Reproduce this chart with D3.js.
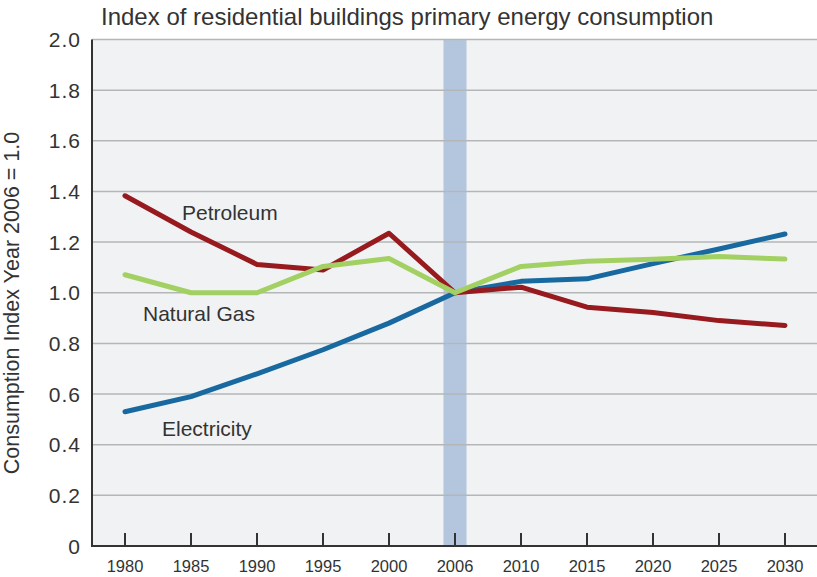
<!DOCTYPE html>
<html>
<head>
<meta charset="utf-8">
<script src="https://cdn.jsdelivr.net/npm/d3@7"></script>
<style>
  body { margin: 0; background: #fff; }
  text { font-family: "Liberation Sans", Arial, Helvetica, sans-serif; fill: #333; }
</style>
</head>
<body>
<div id="chart"></div>
<script>
// data
var years = ["1980", "1985", "1990", "1995", "2000", "2006", "2010", "2015", "2020", "2025", "2030"];
var electricity = [0.53, 0.59, 0.68, 0.775, 0.88, 1.0, 1.045, 1.055, 1.115, 1.173, 1.232];
var petroleum = [1.383, 1.24, 1.112, 1.09, 1.235, 1.0, 1.022, 0.943, 0.922, 0.89, 0.871];
var naturalGas = [1.071, 1.0, 1.0, 1.104, 1.135, 1.0, 1.104, 1.124, 1.132, 1.143, 1.133];
var yTicks = [0, 0.2, 0.4, 0.6, 0.8, 1.0, 1.2, 1.4, 1.6, 1.8, 2.0];
var baseYear = "2006";

var series = [
    {name: "Electricity", values: electricity, color: "#17699f", labelAt: "1980", dx: 37, labelY: 0.435},
    {name: "Petroleum", values: petroleum, color: "#971a1e", labelAt: "1985", dx: -9, labelY: 1.286},
    {name: "Natural Gas", values: naturalGas, color: "#a3d062", labelAt: "1980", dx: 18, labelY: 0.887}
];

var W = 817, H = 577;
var plotLeft = 92, plotTop = 39.5, plotBottom = 546, plotRight = 817;

var svg = d3.select("#chart")
    .append("svg")
    .attr("width", W)
    .attr("height", H);

var x = d3.scalePoint()
    .domain(years)
    .range([125, 785]);

var y = d3.scaleLinear()
    .domain([0, 2])
    .range([plotBottom, plotTop]);

// plot background
svg.append("rect")
    .attr("x", plotLeft)
    .attr("y", plotTop)
    .attr("width", plotRight - plotLeft)
    .attr("height", plotBottom - plotTop)
    .attr("fill", "#f1f2f4");

// base year band
svg.append("rect")
    .attr("x", x(baseYear) - 11.5)
    .attr("y", plotTop)
    .attr("width", 23)
    .attr("height", plotBottom - plotTop)
    .attr("fill", "#b3c6de");

// gridlines
svg.append("g")
    .selectAll("line")
    .data(yTicks.filter(d => d > 0))
    .enter().append("line")
    .attr("x1", plotLeft)
    .attr("x2", plotRight)
    .attr("y1", d => y(d))
    .attr("y2", d => y(d))
    .attr("stroke", "#b5b6b8")
    .attr("stroke-width", 1.5);

// y tick labels
svg.append("g")
    .selectAll("text")
    .data(yTicks)
    .enter().append("text")
    .attr("x", 81)
    .attr("y", d => y(d) + 7.5)
    .attr("text-anchor", "end")
    .attr("font-size", 21)
    .attr("letter-spacing", 1)
    .text(d => d === 0 ? "0" : d.toFixed(1));

// lines
var line = d3.line()
    .x((d, i) => x(years[i]))
    .y(d => y(d));

svg.append("g")
    .selectAll("path")
    .data(series)
    .enter().append("path")
    .attr("d", d => line(d.values))
    .attr("fill", "none")
    .attr("stroke", d => d.color)
    .attr("stroke-width", 5)
    .attr("stroke-linecap", "round")
    .attr("stroke-linejoin", "round");

// series labels
svg.append("g")
    .selectAll("text")
    .data(series)
    .enter().append("text")
    .attr("x", d => x(d.labelAt) + d.dx)
    .attr("y", d => y(d.labelY))
    .attr("font-size", 21)
    .text(d => d.name);

// axes
svg.append("line")
    .attr("x1", plotLeft).attr("x2", plotLeft)
    .attr("y1", plotTop).attr("y2", plotBottom + 1)
    .attr("stroke", "#333")
    .attr("stroke-width", 2);

svg.append("line")
    .attr("x1", plotLeft - 1).attr("x2", plotRight)
    .attr("y1", plotBottom).attr("y2", plotBottom)
    .attr("stroke", "#333")
    .attr("stroke-width", 2);

svg.append("g")
    .selectAll("line")
    .data(years)
    .enter().append("line")
    .attr("x1", d => x(d))
    .attr("x2", d => x(d))
    .attr("y1", plotBottom)
    .attr("y2", plotBottom - 13)
    .attr("stroke", "#333")
    .attr("stroke-width", 2);

svg.append("g")
    .selectAll("text")
    .data(years)
    .enter().append("text")
    .attr("x", d => x(d))
    .attr("y", 571.5)
    .attr("text-anchor", "middle")
    .attr("font-size", 16.5)
    .text(d => d);

// titles
svg.append("text")
    .attr("x", 101)
    .attr("y", 25)
    .attr("font-size", 24)
    .text("Index of residential buildings primary energy consumption");

svg.append("text")
    .attr("transform", "translate(19," + 303 + ") rotate(-90)")
    .attr("text-anchor", "middle")
    .attr("font-size", 21.5)
    .text("Consumption Index Year 2006 = 1.0");
</script>
</body>
</html>
